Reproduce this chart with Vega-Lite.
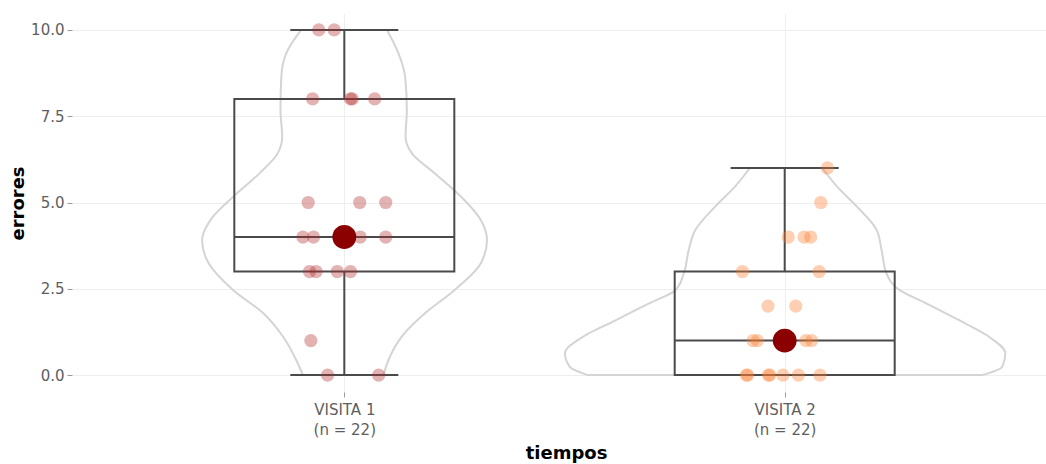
{
  "$schema": "https://vega.github.io/schema/vega-lite/v6.json",
  "autosize": {"type": "none"},
  "padding": {"left": 72, "top": 13, "right": 0, "bottom": 72},
  "width": 974,
  "height": 379,
  "background": "white",
  "config": {"view": {"stroke": null}},
  "datasets": {
    "pts": [
      {"grp": 0, "x": -0.058, "errores": 10}, {"grp": 0, "x": -0.023, "errores": 10},
      {"grp": 0, "x": -0.072, "errores": 8}, {"grp": 0, "x": 0.014, "errores": 8}, {"grp": 0, "x": 0.018, "errores": 8}, {"grp": 0, "x": 0.069, "errores": 8},
      {"grp": 0, "x": -0.082, "errores": 5}, {"grp": 0, "x": 0.035, "errores": 5}, {"grp": 0, "x": 0.094, "errores": 5},
      {"grp": 0, "x": -0.094, "errores": 4}, {"grp": 0, "x": -0.070, "errores": 4}, {"grp": 0, "x": 0.036, "errores": 4}, {"grp": 0, "x": 0.094, "errores": 4}, {"grp": 0, "x": -0.010, "errores": 4}, {"grp": 0, "x": 0.012, "errores": 4},
      {"grp": 0, "x": -0.079, "errores": 3}, {"grp": 0, "x": -0.064, "errores": 3}, {"grp": 0, "x": -0.016, "errores": 3}, {"grp": 0, "x": 0.014, "errores": 3},
      {"grp": 0, "x": -0.076, "errores": 1},
      {"grp": 0, "x": -0.038, "errores": 0}, {"grp": 0, "x": 0.078, "errores": 0},
      {"grp": 1, "x": 1.097, "errores": 6},
      {"grp": 1, "x": 1.082, "errores": 5},
      {"grp": 1, "x": 1.008, "errores": 4}, {"grp": 1, "x": 1.044, "errores": 4}, {"grp": 1, "x": 1.059, "errores": 4},
      {"grp": 1, "x": 0.904, "errores": 3}, {"grp": 1, "x": 1.078, "errores": 3},
      {"grp": 1, "x": 0.962, "errores": 2}, {"grp": 1, "x": 1.025, "errores": 2},
      {"grp": 1, "x": 0.928, "errores": 1}, {"grp": 1, "x": 0.938, "errores": 1}, {"grp": 1, "x": 1.048, "errores": 1}, {"grp": 1, "x": 1.061, "errores": 1}, {"grp": 1, "x": 0.990, "errores": 1}, {"grp": 1, "x": 1.010, "errores": 1},
      {"grp": 1, "x": 0.913, "errores": 0}, {"grp": 1, "x": 0.916, "errores": 0}, {"grp": 1, "x": 0.963, "errores": 0}, {"grp": 1, "x": 0.966, "errores": 0}, {"grp": 1, "x": 0.996, "errores": 0}, {"grp": 1, "x": 1.031, "errores": 0}, {"grp": 1, "x": 1.080, "errores": 0}
    ],
    "box": [
      {"grp": 0, "lo": 0, "q1": 3, "med": 4, "q3": 8, "hi": 10},
      {"grp": 1, "lo": 0, "q1": 0, "med": 1, "q3": 3, "hi": 6}
    ],
    "vio": [
      {"grp": 0, "v": 0, "xl": -0.094, "xr": 0.089},
      {"grp": 0, "v": 0.43, "xl": -0.109, "xr": 0.100},
      {"grp": 0, "v": 1.11, "xl": -0.139, "xr": 0.130},
      {"grp": 0, "v": 1.79, "xl": -0.184, "xr": 0.183},
      {"grp": 0, "v": 2.46, "xl": -0.252, "xr": 0.250},
      {"grp": 0, "v": 3.24, "xl": -0.308, "xr": 0.310},
      {"grp": 0, "v": 3.91, "xl": -0.323, "xr": 0.324},
      {"grp": 0, "v": 4.49, "xl": -0.304, "xr": 0.310},
      {"grp": 0, "v": 5.17, "xl": -0.252, "xr": 0.265},
      {"grp": 0, "v": 5.85, "xl": -0.192, "xr": 0.205},
      {"grp": 0, "v": 6.43, "xl": -0.151, "xr": 0.153},
      {"grp": 0, "v": 6.91, "xl": -0.141, "xr": 0.139},
      {"grp": 0, "v": 7.68, "xl": -0.145, "xr": 0.142},
      {"grp": 0, "v": 8.65, "xl": -0.143, "xr": 0.138},
      {"grp": 0, "v": 9.32, "xl": -0.132, "xr": 0.123},
      {"grp": 0, "v": 10, "xl": -0.098, "xr": 0.097},
      {"grp": 1, "v": 0, "xl": 0.553, "xr": 1.448},
      {"grp": 1, "v": 0.24, "xl": 0.512, "xr": 1.494},
      {"grp": 1, "v": 0.63, "xl": 0.501, "xr": 1.501},
      {"grp": 1, "v": 1.11, "xl": 0.542, "xr": 1.464},
      {"grp": 1, "v": 1.59, "xl": 0.617, "xr": 1.396},
      {"grp": 1, "v": 2.08, "xl": 0.692, "xr": 1.321},
      {"grp": 1, "v": 2.46, "xl": 0.752, "xr": 1.261},
      {"grp": 1, "v": 2.95, "xl": 0.771, "xr": 1.231},
      {"grp": 1, "v": 3.62, "xl": 0.782, "xr": 1.220},
      {"grp": 1, "v": 4.20, "xl": 0.797, "xr": 1.209},
      {"grp": 1, "v": 4.88, "xl": 0.842, "xr": 1.164},
      {"grp": 1, "v": 5.46, "xl": 0.887, "xr": 1.119},
      {"grp": 1, "v": 6, "xl": 0.921, "xr": 1.085}
    ]
  },
  "layer": [
    {
      "data": {"name": "vio"},
      "mark": {"type": "area", "orient": "horizontal", "fill": "white", "fillOpacity": 0, "stroke": "#d4d4d4", "strokeWidth": 2, "interpolate": "monotone"},
      "encoding": {
        "y": {"field": "v", "type": "quantitative", "title": "errores",
          "scale": {"domain": [-0.49, 10.49], "nice": false, "zero": false},
          "axis": {"values": [0, 2.5, 5, 7.5, 10], "format": ".1f", "grid": true, "gridColor": "#eeeeee", "gridWidth": 1, "domain": false,
            "tickSize": 5, "tickColor": "#9a9a9a", "labelPadding": 3, "labelFont": "DejaVu Sans", "labelFontSize": 15, "labelColor": "#5e5e5e",
            "title": "errores", "titleFont": "DejaVu Sans", "titleFontSize": 18, "titleFontWeight": "bold", "titleColor": "#000000",
            "titleAngle": 270, "titleX": -54, "titleY": 190, "titleBaseline": "middle", "titleAlign": "center"}},
        "x": {"field": "xl", "type": "quantitative", "title": "tiempos",
          "scale": {"domain": [-0.607, 1.582], "nice": false, "zero": false},
          "axis": {"values": [0, 1], "labelExpr": "datum.value == 0 ? ['VISITA 1', '(n = 22)'] : ['VISITA 2', '(n = 22)']",
            "grid": true, "gridColor": "#eeeeee", "gridWidth": 1, "domain": false, "tickSize": 5, "tickColor": "#9a9a9a",
            "labelPadding": 5, "labelFont": "DejaVu Sans", "labelFontSize": 15, "labelColor": "#5e5e5e", "labelLineHeight": 20, "labelFlush": false,
            "title": "tiempos", "titleFont": "DejaVu Sans", "titleFontSize": 18, "titleFontWeight": "bold", "titleColor": "#000000",
            "titleX": 494, "titleY": 61, "titleBaseline": "middle", "titleAlign": "center"}},
        "x2": {"field": "xr"},
        "detail": {"field": "grp", "type": "nominal"}
      }
    },
    {
      "data": {"name": "box"},
      "mark": {"type": "rule", "stroke": "#4a4a4a", "strokeWidth": 2},
      "encoding": {
        "x": {"field": "grp", "type": "quantitative", "title": "tiempos"},
        "y": {"field": "lo", "type": "quantitative", "title": "errores"},
        "y2": {"field": "q1"}
      }
    },
    {
      "data": {"name": "box"},
      "mark": {"type": "rule", "stroke": "#4a4a4a", "strokeWidth": 2},
      "encoding": {
        "x": {"field": "grp", "type": "quantitative", "title": "tiempos"},
        "y": {"field": "q3", "type": "quantitative", "title": "errores"},
        "y2": {"field": "hi"}
      }
    },
    {
      "data": {"name": "box"},
      "mark": {"type": "bar", "size": 220, "fill": "white", "fillOpacity": 0, "stroke": "#4a4a4a", "strokeWidth": 2},
      "encoding": {
        "x": {"field": "grp", "type": "quantitative", "title": "tiempos"},
        "y": {"field": "q1", "type": "quantitative", "title": "errores"},
        "y2": {"field": "q3"}
      }
    },
    {
      "data": {"name": "box"},
      "mark": {"type": "tick", "orient": "horizontal", "size": 220, "thickness": 2, "color": "#4a4a4a", "opacity": 1},
      "encoding": {
        "x": {"field": "grp", "type": "quantitative", "title": "tiempos"},
        "y": {"field": "med", "type": "quantitative", "title": "errores"}
      }
    },
    {
      "data": {"name": "box"},
      "mark": {"type": "tick", "orient": "horizontal", "size": 108, "thickness": 2, "color": "#4a4a4a", "opacity": 1},
      "encoding": {
        "x": {"field": "grp", "type": "quantitative", "title": "tiempos"},
        "y": {"field": "lo", "type": "quantitative", "title": "errores"}
      }
    },
    {
      "data": {"name": "box"},
      "mark": {"type": "tick", "orient": "horizontal", "size": 108, "thickness": 2, "color": "#4a4a4a", "opacity": 1},
      "encoding": {
        "x": {"field": "grp", "type": "quantitative", "title": "tiempos"},
        "y": {"field": "hi", "type": "quantitative", "title": "errores"}
      }
    },
    {
      "data": {"name": "pts"},
      "mark": {"type": "circle", "size": 175, "opacity": 0.36, "stroke": null},
      "encoding": {
        "x": {"field": "x", "type": "quantitative", "title": "tiempos"},
        "y": {"field": "errores", "type": "quantitative", "title": "errores"},
        "color": {"field": "grp", "type": "nominal", "scale": {"domain": [0, 1], "range": ["#b22a2a", "#fb7a2a"]}, "legend": null}
      }
    },
    {
      "data": {"name": "box"},
      "mark": {"type": "circle", "size": 570, "opacity": 1, "color": "#8b0000"},
      "encoding": {
        "x": {"field": "grp", "type": "quantitative", "title": "tiempos"},
        "y": {"field": "med", "type": "quantitative", "title": "errores"}
      }
    }
  ]
}
